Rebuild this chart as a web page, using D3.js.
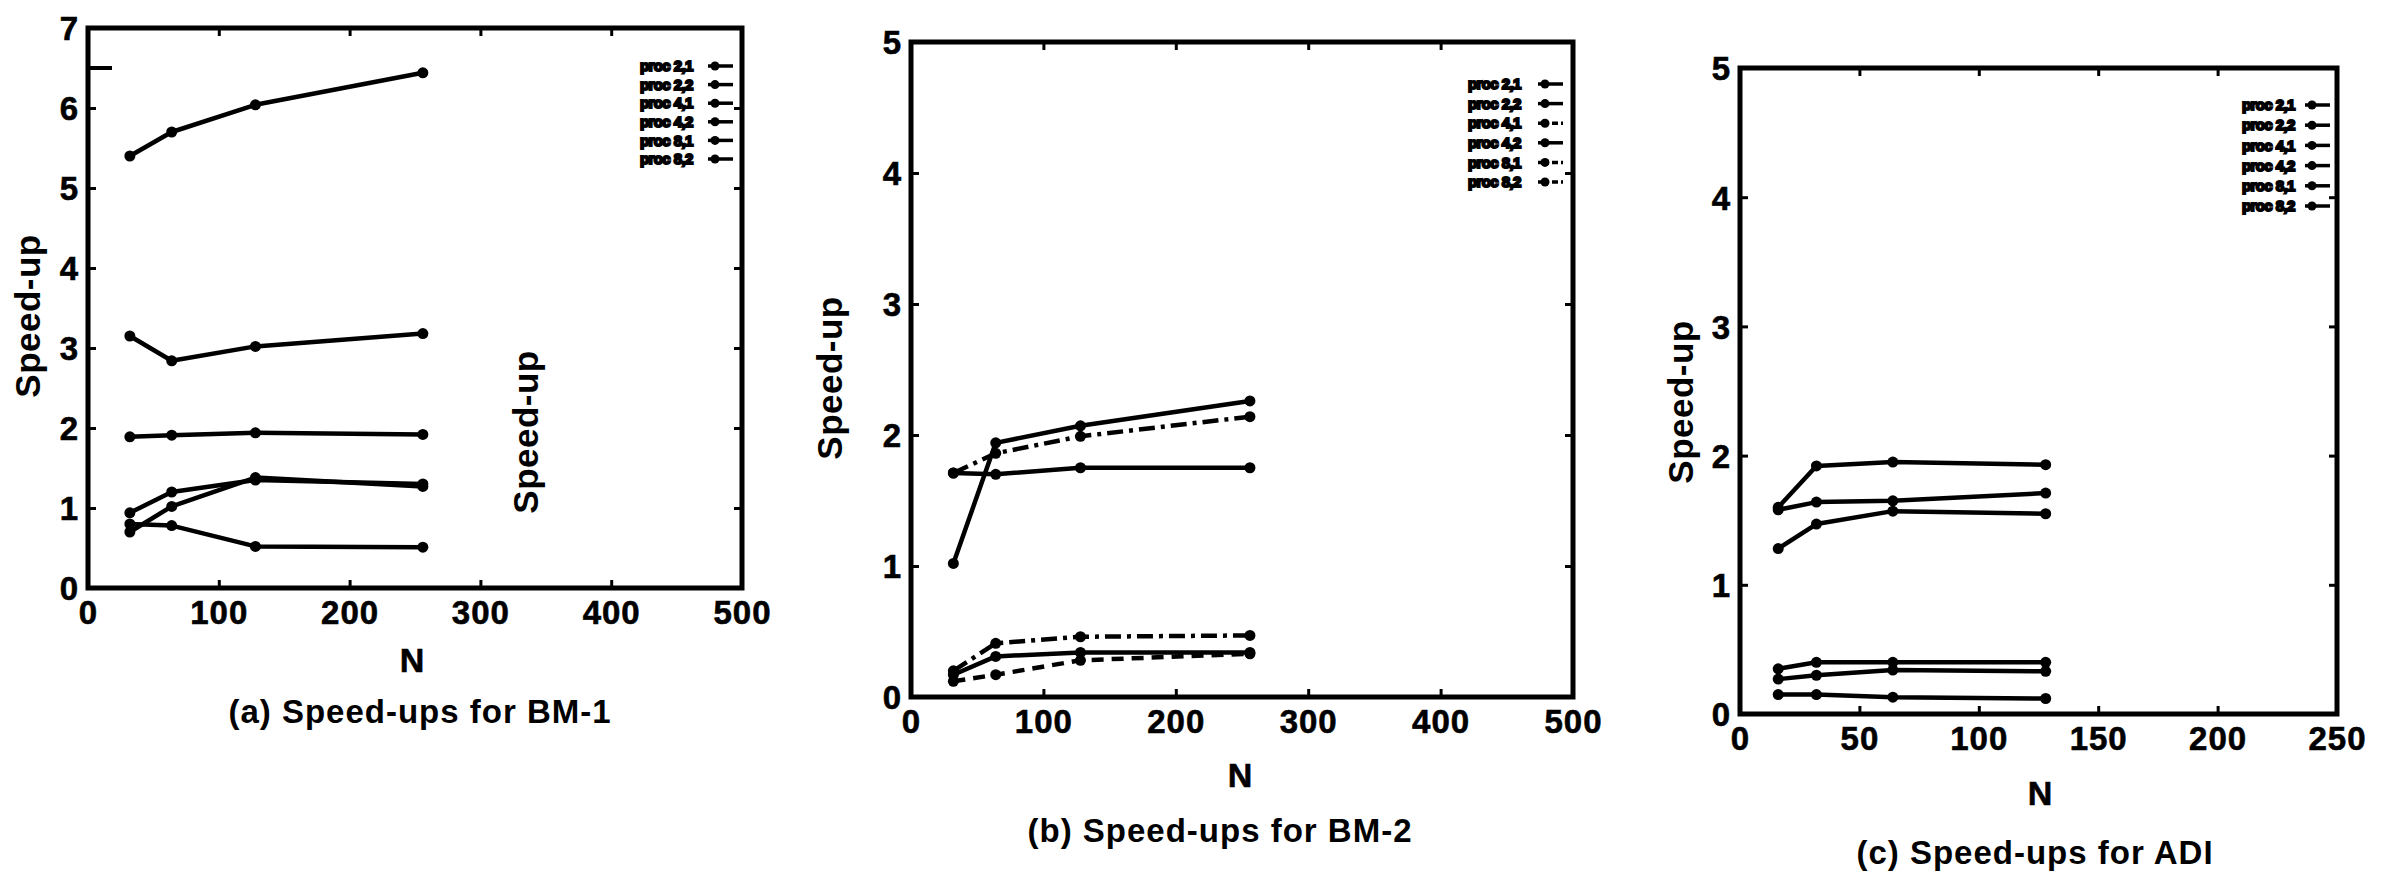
<!DOCTYPE html>
<html><head><meta charset="utf-8">
<script src="https://cdn.jsdelivr.net/npm/d3@7"></script>
<style>
body{margin:0;background:#fff}
svg{display:block}
text{font-family:"Liberation Sans",Arial,Helvetica,sans-serif;fill:#000}
</style></head><body>
<svg id="c" width="2392" height="881"></svg>
<script>
// ---------- data ----------
const nBM  = [32, 64, 128, 256];
const nADI = [16, 32, 64, 128];
const legendLabels = ["proc 2,1", "proc 2,2", "proc 4,1", "proc 4,2", "proc 8,1", "proc 8,2"];
const xTicksBM  = [0, 100, 200, 300, 400, 500];
const xTicksADI = [0, 50, 100, 150, 200, 250];
const yTicks7 = [0, 1, 2, 3, 4, 5, 6, 7];
const yTicks5 = [0, 1, 2, 3, 4, 5];

// (a) BM-1
const bm1_1 = [5.40, 5.70, 6.04, 6.44];
const bm1_2 = [3.15, 2.84, 3.02, 3.18];
const bm1_3 = [1.89, 1.91, 1.94, 1.92];
const bm1_4 = [0.94, 1.20, 1.35, 1.30];
const bm1_5 = [0.70, 1.02, 1.38, 1.27];
const bm1_6 = [0.80, 0.78, 0.52, 0.51];
// (b) BM-2
const bm2_1 = [1.02, 1.94, 2.07, 2.26];
const bm2_2 = [1.71, 1.70, 1.75, 1.75];
const bm2_3 = [1.71, 1.86, 1.99, 2.14];
const bm2_4 = [0.17, 0.31, 0.34, 0.34];
const bm2_5 = [0.20, 0.41, 0.46, 0.47];
const bm2_6 = [0.12, 0.17, 0.28, 0.33];
// (c) ADI
const adi_1 = [1.60, 1.92, 1.95, 1.93];
const adi_2 = [1.58, 1.64, 1.65, 1.71];
const adi_3 = [1.28, 1.47, 1.57, 1.55];
const adi_4 = [0.35, 0.40, 0.40, 0.40];
const adi_5 = [0.27, 0.30, 0.34, 0.33];
const adi_6 = [0.15, 0.15, 0.13, 0.12];

const dashSolid = null, dashDot = "16,6,4,6", dashDash = "12,8";

// ---------- layout ----------
const panels = [
  { n: nBM, xMax: 500, xTicks: xTicksBM, yMax: 7, yTicks: yTicks7,
    box: {l: 88, r: 742, t: 28, b: 588},
    ylab: [28, 316], nlab: [412, 660], cap: [420, 711], capText: "(a)  Speed-ups for BM-1",
    leg: {x: 640, y: 66, dy: 18.6, sx: 708},
    series: [bm1_1, bm1_2, bm1_3, bm1_4, bm1_5, bm1_6],
    dashes: [dashSolid, dashSolid, dashSolid, dashSolid, dashSolid, dashSolid] },
  { n: nBM, xMax: 500, xTicks: xTicksBM, yMax: 5, yTicks: yTicks5,
    box: {l: 911, r: 1573, t: 42, b: 697},
    ylab: [830, 378], nlab: [1240, 775], cap: [1220, 830], capText: "(b)  Speed-ups for BM-2",
    leg: {x: 1468, y: 84, dy: 19.6, sx: 1538},
    series: [bm2_1, bm2_2, bm2_3, bm2_4, bm2_5, bm2_6],
    dashes: [dashSolid, dashSolid, dashDot, dashSolid, dashDot, dashDash] },
  { n: nADI, xMax: 250, xTicks: xTicksADI, yMax: 5, yTicks: yTicks5,
    box: {l: 1740, r: 2337, t: 68, b: 714},
    ylab: [1681, 402], nlab: [2040, 793], cap: [2035, 852], capText: "(c)  Speed-ups for ADI",
    leg: {x: 2242, y: 105, dy: 20.2, sx: 2305},
    series: [adi_1, adi_2, adi_3, adi_4, adi_5, adi_6],
    dashes: [dashSolid, dashSolid, dashSolid, dashSolid, dashSolid, dashSolid] }
];

const svg = d3.select("#c");

panels.forEach((p, pi) => {
  const x = d3.scaleLinear().domain([0, p.xMax]).range([p.box.l, p.box.r]);
  const y = d3.scaleLinear().domain([0, p.yMax]).range([p.box.b, p.box.t]);
  const g = svg.append("g");

  // axes with inward ticks
  const axB = g.append("g").attr("transform", `translate(0,${p.box.b})`)
    .call(d3.axisBottom(x).tickValues(p.xTicks).tickSize(-8).tickPadding(13).tickFormat(d3.format("d")));
  const axT = g.append("g").attr("transform", `translate(0,${p.box.t})`)
    .call(d3.axisTop(x).tickValues(p.xTicks).tickSize(-8).tickFormat(""));
  const axL = g.append("g").attr("transform", `translate(${p.box.l},0)`)
    .call(d3.axisLeft(y).tickValues(p.yTicks).tickSize(-8).tickPadding(9).tickFormat(d3.format("d")));
  const axR = g.append("g").attr("transform", `translate(${p.box.r},0)`)
    .call(d3.axisRight(y).tickValues(p.yTicks).tickSize(-8).tickFormat(""));
  [axB, axT, axL, axR].forEach(a => {
    a.select(".domain").remove();
    a.selectAll(".tick line").attr("stroke", "#000").attr("stroke-width", 3);
    a.selectAll(".tick text").attr("font-size", 33).attr("font-weight", "bold").attr("fill", "#000")
      .attr("letter-spacing", 1).attr("stroke", "#000").attr("stroke-width", 0.6)
      .style("font-family", '"Liberation Sans", Arial, sans-serif');
  });
  axL.selectAll(".tick text").attr("dy", "0.36em");

  // frame
  g.append("rect").attr("x", p.box.l).attr("y", p.box.t)
    .attr("width", p.box.r - p.box.l).attr("height", p.box.b - p.box.t)
    .attr("fill", "none").attr("stroke", "#000").attr("stroke-width", 5);

  // series
  const line = d3.line().x((d, i) => x(p.n[i])).y(d => y(d));
  p.series.forEach((s, si) => {
    g.append("path").attr("d", line(s)).attr("fill", "none").attr("stroke", "#000")
      .attr("stroke-width", 4.5).attr("stroke-linejoin", "round")
      .attr("stroke-dasharray", p.dashes[si]);
    g.selectAll(null).data(s).enter().append("circle")
      .attr("cx", (d, i) => x(p.n[i])).attr("cy", d => y(d)).attr("r", 5.5).attr("fill", "#000");
  });

  // legend
  legendLabels.forEach((lab, li) => {
    const ly = p.leg.y + li * p.leg.dy;
    g.append("text").attr("x", p.leg.x).attr("y", ly).attr("dy", "0.35em")
      .attr("font-size", 15).attr("font-weight", "bold").attr("letter-spacing", -0.6)
      .attr("stroke", "#000").attr("stroke-width", 2).text(lab);
    g.append("line").attr("x1", p.leg.sx).attr("x2", p.leg.sx + 25).attr("y1", ly).attr("y2", ly)
      .attr("stroke", "#000").attr("stroke-width", 3.5)
      .attr("stroke-dasharray", p.dashes[li] ? "6,3,2,3" : null);
    g.append("circle").attr("cx", p.leg.sx + 7).attr("cy", ly).attr("r", 4.5).attr("fill", "#000");
  });

  // labels
  g.append("text").attr("transform", `translate(${p.ylab[0]},${p.ylab[1]}) rotate(-90)`)
    .attr("text-anchor", "middle").attr("dy", "0.35em").attr("font-size", 35).attr("font-weight", "bold")
    .attr("letter-spacing", 0.5).text("Speed-up");
  g.append("text").attr("x", p.nlab[0]).attr("y", p.nlab[1]).attr("dy", "0.35em")
    .attr("text-anchor", "middle").attr("font-size", 34).attr("font-weight", "bold")
    .attr("stroke", "#000").attr("stroke-width", 0.6).text("N");
  g.append("text").attr("x", p.cap[0]).attr("y", p.cap[1]).attr("dy", "0.35em")
    .attr("text-anchor", "middle").attr("font-size", 33).attr("font-weight", "bold")
    .attr("letter-spacing", 1).text(p.capText);

  if (pi === 0) {
    // stray label and mark present in panel (a)
    g.append("text").attr("transform", `translate(${x(335)},${y(1.95)}) rotate(-90)`)
      .attr("text-anchor", "middle").attr("dy", "0.35em").attr("font-size", 35).attr("font-weight", "bold")
      .attr("letter-spacing", 0.5).text("Speed-up");
    g.append("line").attr("x1", p.box.l).attr("x2", p.box.l + 24).attr("y1", y(6.5)).attr("y2", y(6.5))
      .attr("stroke", "#000").attr("stroke-width", 4);
  }
});
</script></body></html>
